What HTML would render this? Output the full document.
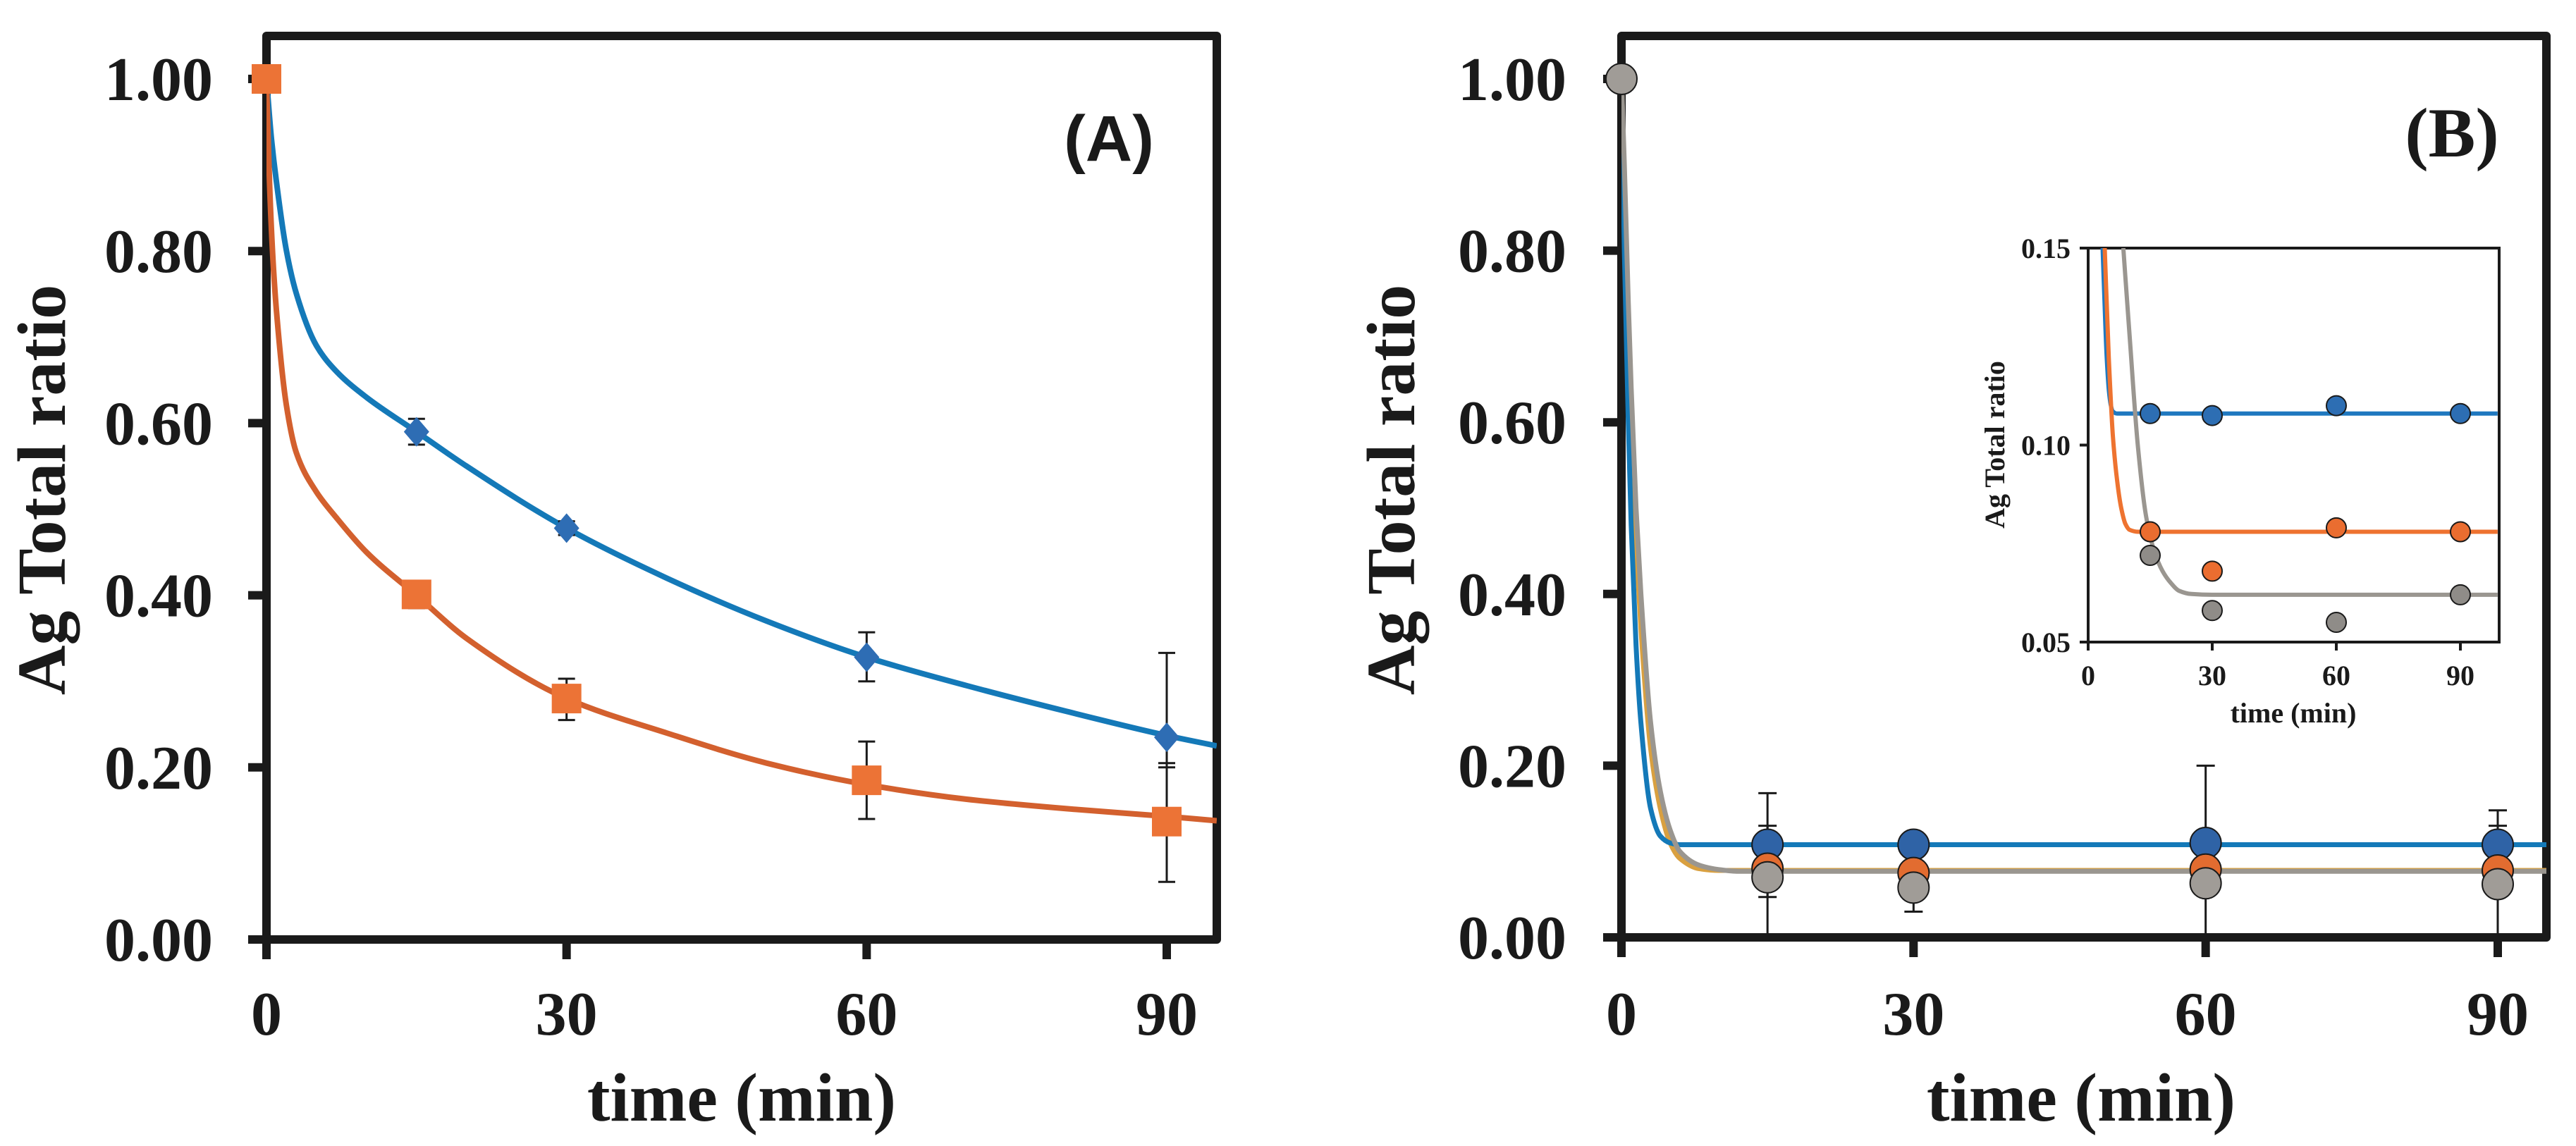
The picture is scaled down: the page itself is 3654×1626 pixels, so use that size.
<!DOCTYPE html>
<html><head><meta charset="utf-8"><style>
html,body{margin:0;padding:0;background:#fff;}
svg{display:block;}
text{font-family:"Liberation Serif",serif;font-weight:bold;fill:#1a1a1a;}
</style></head><body>
<svg id="fig" width="3654" height="1626" viewBox="0 0 3654 1626" xmlns="http://www.w3.org/2000/svg">
<g id="gA"></g>
<g id="gB"></g>
<g id="gI"></g>
</svg>
<script>
// ---------- Panel A data ----------
const timesA = [0, 15, 30, 60, 90];
const blueA = [1.00, 0.590, 0.478, 0.328, 0.235];
const blueAErrLo = [0, 0.575, 0.470, 0.300, 0.200];
const blueAErrHi = [0, 0.605, 0.486, 0.357, 0.333];
const orangeA = [1.00, 0.401, 0.280, 0.185, 0.137];
const orangeAErrLo = [0, 0.385, 0.255, 0.140, 0.067];
const orangeAErrHi = [0, 0.415, 0.303, 0.230, 0.205];
const blueFitT = [0, 0.5, 1, 2, 3, 5, 7, 10, 15, 20, 30, 40, 50, 60, 70, 80, 90, 95];
const blueFitY = [1.0, 0.93, 0.88, 0.80, 0.75, 0.69, 0.66, 0.63, 0.59, 0.55, 0.478, 0.42, 0.37, 0.328, 0.295, 0.265, 0.237, 0.225];
const orangeFitT = [0, 0.3, 0.7, 1, 2, 3, 5, 7, 10, 15, 20, 30, 40, 50, 60, 70, 80, 90, 95];
const orangeFitY = [1.0, 0.88, 0.78, 0.73, 0.62, 0.565, 0.52, 0.49, 0.45, 0.40, 0.35, 0.28, 0.24, 0.205, 0.18, 0.163, 0.152, 0.143, 0.138];
const yTicks = [0, 0.2, 0.4, 0.6, 0.8, 1.0];
const yTickLabels = ["0.00", "0.20", "0.40", "0.60", "0.80", "1.00"];
const xTicks = [0, 30, 60, 90];

// ---------- Panel B data ----------
const timesB = [0, 15, 30, 60, 90];
const blueB = [1.00, 0.108, 0.108, 0.110, 0.108];
const orangeB = [1.00, 0.080, 0.075, 0.079, 0.078];
const grayB = [1.00, 0.070, 0.058, 0.063, 0.062];
const errT = [15, 15, 30, 60, 90, 90];
const errLo = [0.000, 0.047, 0.030, 0.000, 0.000, 0.000];
const errHi = [0.168, 0.130, 0.060, 0.200, 0.148, 0.130];
const blueBFitT = [0, 0.3, 0.7, 1, 1.5, 2, 3, 4, 5, 6, 95];
const blueBFitY = [1.0, 0.80, 0.60, 0.48, 0.34, 0.25, 0.15, 0.118, 0.110, 0.108, 0.108];
const orangeBFitT = [0, 0.3, 0.7, 1, 1.5, 2, 3, 4, 5, 6, 8, 10, 95];
const orangeBFitY = [1.0, 0.88, 0.70, 0.60, 0.46, 0.36, 0.22, 0.15, 0.11, 0.092, 0.080, 0.078, 0.078];
const grayBFitT = [0, 0.3, 0.7, 1, 1.5, 2, 3, 4, 5, 6, 8, 10, 12, 95];
const grayBFitY = [1.0, 0.90, 0.74, 0.64, 0.50, 0.40, 0.25, 0.17, 0.125, 0.10, 0.084, 0.079, 0.077, 0.077];

// ---------- Inset data ----------
const timesI = [15, 30, 60, 90];
const blueI = [0.108, 0.1075, 0.110, 0.108];
const orangeI = [0.078, 0.068, 0.079, 0.078];
const grayI = [0.072, 0.058, 0.055, 0.062];
const blueIFitT = [3.5, 4, 4.5, 5, 5.5, 6, 7, 99];
const blueIFitY = [0.150, 0.135, 0.122, 0.114, 0.110, 0.1085, 0.108, 0.108];
const orangeIFitT = [4, 5, 6, 7, 8, 9, 10, 12, 99];
const orangeIFitY = [0.150, 0.122, 0.102, 0.091, 0.084, 0.080, 0.0785, 0.078, 0.078];
const grayIFitT = [8.5, 10, 12, 14, 16, 18, 20, 22, 25, 30, 99];
const grayIFitY = [0.150, 0.128, 0.100, 0.082, 0.073, 0.068, 0.065, 0.063, 0.0622, 0.062, 0.062];
const yTicksI = [0.05, 0.10, 0.15];
const yTickLabelsI = ["0.05", "0.10", "0.15"];

const NS = "http://www.w3.org/2000/svg";
function mk(parent, tag, attrs, txt) {
  const e = document.createElementNS(NS, tag);
  for (const k in attrs) e.setAttribute(k, attrs[k]);
  if (txt !== undefined) e.textContent = txt;
  parent.appendChild(e);
  return e;
}
function lin(d0, d1, r0, r1) { return v => r0 + (v - d0) * (r1 - r0) / (d1 - d0); }
// monotone cubic (Fritsch-Carlson) in data space
function smoothPath(ts, ys, sx, sy) {
  const n = ts.length, h = [], del = [], m = new Array(n);
  for (let i = 0; i < n - 1; i++) { h[i] = ts[i + 1] - ts[i]; del[i] = (ys[i + 1] - ys[i]) / h[i]; }
  m[0] = del[0]; m[n - 1] = del[n - 2];
  for (let i = 1; i < n - 1; i++) {
    if (del[i - 1] * del[i] <= 0) m[i] = 0;
    else { const w1 = 2 * h[i] + h[i - 1], w2 = h[i] + 2 * h[i - 1]; m[i] = (w1 + w2) / (w1 / del[i - 1] + w2 / del[i]); }
  }
  let d = "M" + sx(ts[0]).toFixed(1) + "," + sy(ys[0]).toFixed(1);
  for (let i = 0; i < n - 1; i++) {
    const x1 = ts[i] + h[i] / 3, y1 = ys[i] + m[i] * h[i] / 3;
    const x2 = ts[i + 1] - h[i] / 3, y2 = ys[i + 1] - m[i + 1] * h[i] / 3;
    d += "C" + sx(x1).toFixed(1) + "," + sy(y1).toFixed(1) + " " + sx(x2).toFixed(1) + "," + sy(y2).toFixed(1) + " " + sx(ts[i + 1]).toFixed(1) + "," + sy(ys[i + 1]).toFixed(1);
  }
  return d;
}
const INK = "#1a1a1a";

function axesMain(g, L, T, R, B, sx, sy, tickLabelRight) {
  const frame = mk(g, "rect", {x: L, y: T, width: R - L, height: B - T, fill: "none", stroke: INK, "stroke-width": 12, "stroke-linejoin": "round"});
  
  
  yTicks.forEach((v, i) => {
    const l = mk(g, "line", {x1: L - 26, x2: L, y1: sy(v), y2: sy(v), stroke: INK, "stroke-width": 12});
    
    
    const t = mk(g, "text", {x: tickLabelRight, y: sy(v) + 30, "text-anchor": "end", "font-size": 88}, yTickLabels[i]);
    
    
  });
  xTicks.forEach(v => {
    const l = mk(g, "line", {x1: sx(v), x2: sx(v), y1: B, y2: B + 28, stroke: INK, "stroke-width": 12});
    
    
    const t = mk(g, "text", {x: sx(v), y: 1468, "text-anchor": "middle", "font-size": 88}, String(v));
    
    
  });
}

// ================= Panel A =================
(function () {
  const g = document.getElementById("gA");
  const L = 378, R = 1726, T = 51, B = 1333;
  const sx = lin(0, 90, 378, 1655), sy = lin(0, 1, 1333, 112);
  axesMain(g, L, T, R, B, sx, sy, 302);
  const yt = mk(g, "text", {x: 0, y: 0, "text-anchor": "middle", "font-size": 98, transform: "translate(92,695) rotate(-90)"}, "Ag Total ratio");
  
  
  const xt = mk(g, "text", {x: 1052, y: 1590, "text-anchor": "middle", "font-size": 98}, "time (min)");
  
  
  const lab = mk(g, "text", {x: 1573, y: 228, "text-anchor": "middle", "font-size": 92, style: "font-family:'Liberation Sans',sans-serif"}, "(A)");
  
  
  const clip = mk(g, "clipPath", {id: "clipA"});
  mk(clip, "rect", {x: L, y: T, width: R - L, height: B - T});
  const cb = mk(g, "path", {d: smoothPath(blueFitT, blueFitY, sx, sy), fill: "none", stroke: "#1479b8", "stroke-width": 8, "clip-path": "url(#clipA)"});
  
  
  const co = mk(g, "path", {d: smoothPath(orangeFitT, orangeFitY, sx, sy), fill: "none", stroke: "#d3602e", "stroke-width": 8, "clip-path": "url(#clipA)"});
  
  
  function err(t, lo, hi) {
    if (hi <= lo) return;
    const e = mk(g, "path", {d: `M${sx(t)},${sy(lo)}V${sy(hi)}M${sx(t)-12},${sy(lo)}h24M${sx(t)-12},${sy(hi)}h24`, stroke: INK, "stroke-width": 3, fill: "none"});
    
    
  }
  timesA.forEach((t, i) => { err(t, blueAErrLo[i], blueAErrHi[i]); err(t, orangeAErrLo[i], orangeAErrHi[i]); });
  timesA.forEach((t, i) => {
    if (i === 0) return;
    const x = sx(t), y = sy(blueA[i]);
    const d = mk(g, "path", {d: `M${x},${y-21}L${x+18},${y}L${x},${y+21}L${x-18},${y}Z`, fill: "#2e6db4"});
    
    
  });
  timesA.forEach((t, i) => {
    const s = mk(g, "rect", {x: sx(t) - 21, y: sy(orangeA[i]) - 21, width: 42, height: 42, fill: "#ec7336"});
    
    
  });
})();

// ================= Panel B =================
(function () {
  const g = document.getElementById("gB");
  const L = 2300, R = 3612, T = 51, B = 1330;
  const sx = lin(0, 90, 2300, 3543), sy = lin(0, 1, 1330, 112);
  axesMain(g, L, T, R, B, sx, sy, 2222);
  const yt = mk(g, "text", {x: 0, y: 0, "text-anchor": "middle", "font-size": 98, transform: "translate(2006,695) rotate(-90)"}, "Ag Total ratio");
  
  
  const xt = mk(g, "text", {x: 2952, y: 1590, "text-anchor": "middle", "font-size": 98}, "time (min)");
  
  
  const lab = mk(g, "text", {x: 3478, y: 222, "text-anchor": "middle", "font-size": 100}, "(B)");
  
  
  const clip = mk(g, "clipPath", {id: "clipB"});
  mk(clip, "rect", {x: L, y: T, width: R - L, height: B - T});
  [[orangeBFitT, orangeBFitY, "#d9a040", "fit-curve-orange"], [blueBFitT, blueBFitY, "#1479b8", "fit-curve-blue"], [grayBFitT, grayBFitY, "#9a9690", "fit-curve-gray"]].forEach(c => {
    const p = mk(g, "path", {d: smoothPath(c[0], c[1], sx, sy), fill: "none", stroke: c[2], "stroke-width": 7, "clip-path": "url(#clipB)"});
    
    
  });
  errT.forEach((t, i) => {
    const e = mk(g, "path", {d: `M${sx(t)},${sy(errLo[i])}V${sy(errHi[i])}M${sx(t)-13},${sy(errLo[i])}h26M${sx(t)-13},${sy(errHi[i])}h26`, stroke: INK, "stroke-width": 3, fill: "none"});
    
    
  });
  [[blueB, "#2f63a6", "blue-point"], [orangeB, "#e26c30", "orange-point"], [grayB, "#a09c97", "gray-point"]].forEach(s => {
    timesB.forEach((t, i) => {
      if (i === 0 && s[2] !== "gray-point") return;
      const c = mk(g, "circle", {cx: sx(t), cy: sy(s[0][i]), r: 22, fill: s[1], stroke: INK, "stroke-width": 2});
      
      
    });
  });
})();

// ================= Inset =================
(function () {
  const g = document.getElementById("gI");
  const L = 2962, R = 3545, T = 352, B = 911;
  const sx = lin(0, 90, 2962, 3490), sy = lin(0.05, 0.15, 911, 352);
  const bg = mk(g, "rect", {x: L, y: T, width: R - L, height: B - T, fill: "#fff", stroke: INK, "stroke-width": 4});
  
  
  yTicksI.forEach((v, i) => {
    const l = mk(g, "line", {x1: L - 12, x2: L, y1: sy(v), y2: sy(v), stroke: INK, "stroke-width": 4});
    
    
    const t = mk(g, "text", {x: 2937, y: sy(v) + 14, "text-anchor": "end", "font-size": 40}, yTickLabelsI[i]);
    
    
  });
  xTicks.forEach(v => {
    const l = mk(g, "line", {x1: sx(v), x2: sx(v), y1: B, y2: B + 12, stroke: INK, "stroke-width": 4});
    
    
    const t = mk(g, "text", {x: sx(v), y: 972, "text-anchor": "middle", "font-size": 40}, String(v));
    
    
  });
  const yt = mk(g, "text", {x: 0, y: 0, "text-anchor": "middle", "font-size": 40, transform: "translate(2843,631) rotate(-90)"}, "Ag Total ratio");
  
  
  const xt = mk(g, "text", {x: 3253, y: 1025, "text-anchor": "middle", "font-size": 40}, "time (min)");
  
  
  const clip = mk(g, "clipPath", {id: "clipI"});
  mk(clip, "rect", {x: L, y: T, width: R - L, height: B - T});
  [[blueIFitT, blueIFitY, "#1f78bf", "inset-curve-blue"], [orangeIFitT, orangeIFitY, "#ee7330", "inset-curve-orange"], [grayIFitT, grayIFitY, "#9a9690", "inset-curve-gray"]].forEach(c => {
    const p = mk(g, "path", {d: smoothPath(c[0], c[1], sx, sy), fill: "none", stroke: c[2], "stroke-width": 6, "clip-path": "url(#clipI)"});
    
    
  });
  [[blueI, "#2d6eb3", "inset-blue-point"], [orangeI, "#ea6d30", "inset-orange-point"], [grayI, "#8f8c88", "inset-gray-point"]].forEach(s => {
    timesI.forEach((t, i) => {
      const c = mk(g, "circle", {cx: sx(t), cy: sy(s[0][i]), r: 14, fill: s[1], stroke: INK, "stroke-width": 2});
      
      
    });
  });
})();
</script>
</body></html>
